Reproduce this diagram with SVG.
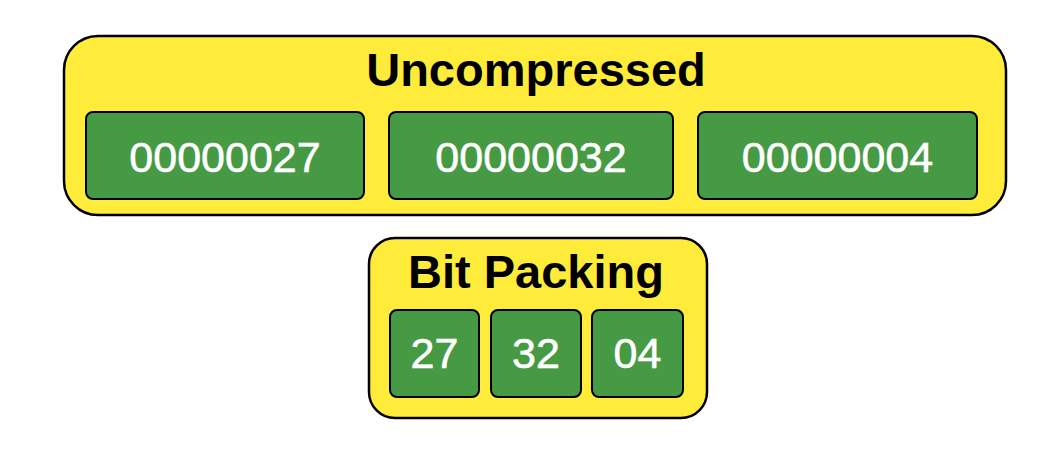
<svg xmlns="http://www.w3.org/2000/svg" width="1062" height="460" viewBox="0 0 1062 460">
<style>
.grp{fill:#FFEC3A;stroke:#000;stroke-width:2.5}
.cell{fill:#479A44;stroke:#000;stroke-width:2}
.title{font-family:"Liberation Sans",Arial,sans-serif;font-weight:bold;font-size:47px;fill:#000;text-anchor:middle}
.val{font-family:"Liberation Sans",Arial,sans-serif;font-size:43px;fill:#fff;text-anchor:middle;stroke:#fff;stroke-width:0.6}
</style>
<rect width="1062" height="460" fill="#fff"/>
<g id="uncompressed">
<rect class="grp" x="64" y="36" width="942" height="179" rx="34"/>
<text class="title" x="536" y="86">Uncompressed</text>
</g>
<g id="u1"><rect class="cell" x="86" y="112" width="278" height="87" rx="7"/><text class="val" x="225" y="172">00000027</text></g>
<g id="u2"><rect class="cell" x="389" y="112" width="284" height="87" rx="7"/><text class="val" x="531" y="172">00000032</text></g>
<g id="u3"><rect class="cell" x="698" y="112" width="279" height="87" rx="7"/><text class="val" x="837.5" y="172">00000004</text></g>
<g id="bitpacking">
<rect class="grp" x="369" y="238" width="338" height="180" rx="26"/>
<text class="title" x="536" y="288">Bit Packing</text>
</g>
<g id="b1"><rect class="cell" x="390" y="310" width="89" height="87" rx="7"/><text class="val" x="434.5" y="368">27</text></g>
<g id="b2"><rect class="cell" x="491" y="310" width="90" height="87" rx="7"/><text class="val" x="536" y="368">32</text></g>
<g id="b3"><rect class="cell" x="592" y="310" width="91" height="87" rx="7"/><text class="val" x="637.5" y="368">04</text></g>
<g id="connectors"></g>
</svg>
